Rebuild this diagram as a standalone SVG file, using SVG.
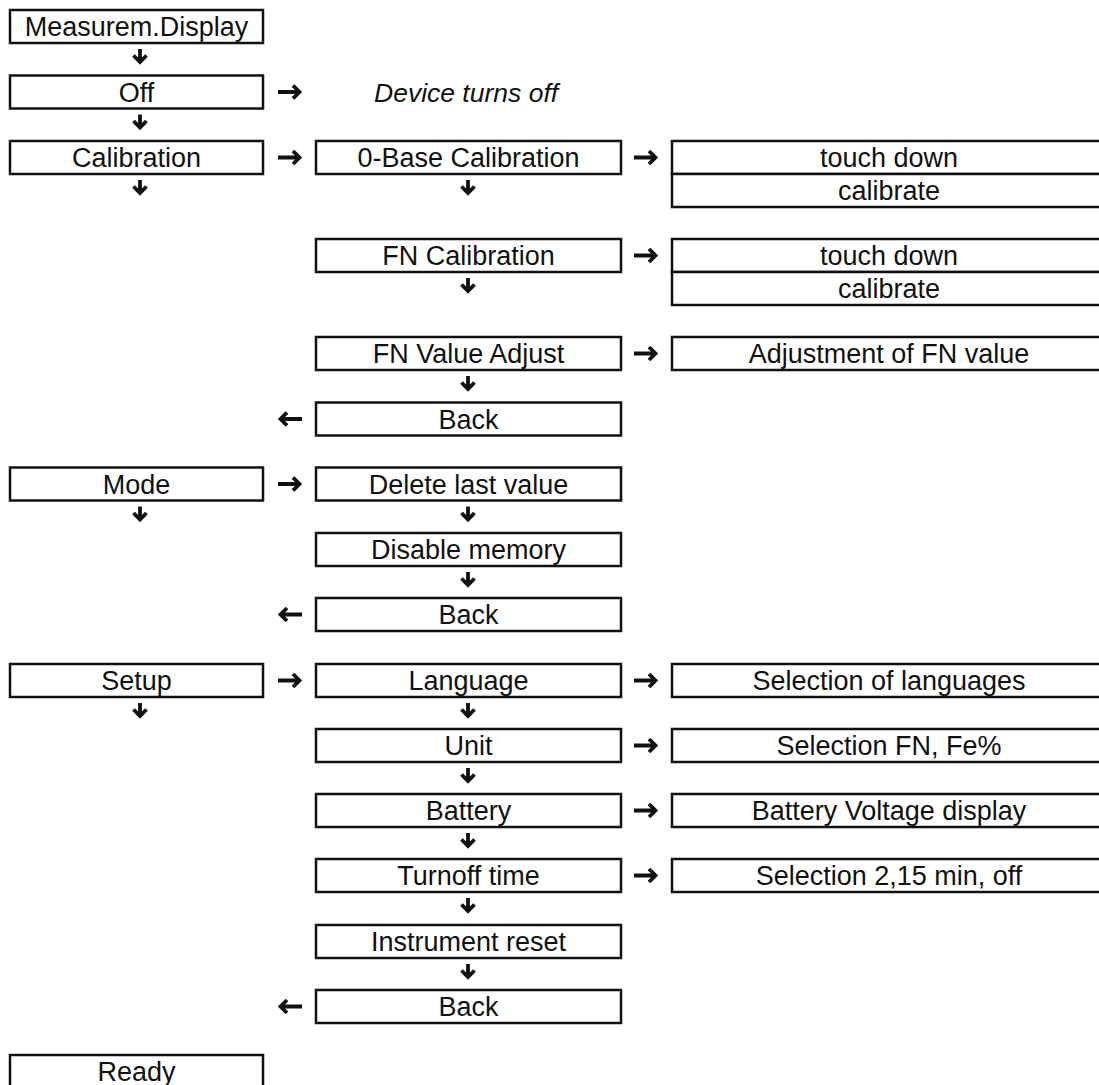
<svg xmlns="http://www.w3.org/2000/svg" width="1099" height="1085" viewBox="0 0 1099 1085">
<style>
.b{fill:#fff;stroke:#111;stroke-width:2.5}
.t{font-family:"Liberation Sans",Arial,sans-serif;font-size:27px;fill:#111;text-anchor:middle}
.i{font-family:"Liberation Sans",Arial,sans-serif;font-size:26.5px;font-style:italic;fill:#111}
.a{fill:none;stroke:#111;stroke-width:3.8;stroke-linejoin:miter}
</style>
<defs>
<path id="dn" class="a" d="M0,-7.5 V5 M-6.5,-1 L0,5.5 L6.5,-1"/>
<path id="rt" class="a" d="M-12,0 H9 M3,-6.5 L9.5,0 L3,6.5"/>
<path id="lt" class="a" d="M12,0 H-9 M-3,-6.5 L-9.5,0 L-3,6.5"/>
</defs>
<rect width="1099" height="1085" fill="#fff"/>

<g id="n-measurem"><rect class="b" x="10" y="10" width="253" height="33"/><text class="t" x="136.5" y="36">Measurem.Display</text></g>
<g id="n-off"><rect class="b" x="10" y="75.5" width="253" height="33"/><text class="t" x="136.5" y="101.5">Off</text></g>
<g id="n-devoff"><text class="i" x="374" y="101.5">Device turns off</text></g>
<g id="n-calibration"><rect class="b" x="10" y="141" width="253" height="33"/><text class="t" x="136.5" y="167">Calibration</text></g>
<g id="n-0base"><rect class="b" x="316" y="141" width="305" height="33"/><text class="t" x="468.5" y="167">0-Base Calibration</text></g>
<g id="n-0base-r"><rect class="b" x="672" y="141" width="440" height="33"/><text class="t" x="889" y="167">touch down</text><rect class="b" x="672" y="174" width="440" height="33"/><text class="t" x="889" y="200">calibrate</text></g>
<g id="n-fncal"><rect class="b" x="316" y="239" width="305" height="33"/><text class="t" x="468.5" y="265">FN Calibration</text></g>
<g id="n-fncal-r"><rect class="b" x="672" y="239" width="440" height="33"/><text class="t" x="889" y="265">touch down</text><rect class="b" x="672" y="272" width="440" height="33"/><text class="t" x="889" y="298">calibrate</text></g>
<g id="n-fnadj"><rect class="b" x="316" y="337" width="305" height="33"/><text class="t" x="468.5" y="363">FN Value Adjust</text></g>
<g id="n-fnadj-r"><rect class="b" x="672" y="337" width="440" height="33"/><text class="t" x="889" y="363">Adjustment of FN value</text></g>
<g id="n-back1"><rect class="b" x="316" y="402.5" width="305" height="33"/><text class="t" x="468.5" y="428.5">Back</text></g>
<g id="n-mode"><rect class="b" x="10" y="467.5" width="253" height="33"/><text class="t" x="136.5" y="493.5">Mode</text></g>
<g id="n-dellast"><rect class="b" x="316" y="467.5" width="305" height="33"/><text class="t" x="468.5" y="493.5">Delete last value</text></g>
<g id="n-dismem"><rect class="b" x="316" y="533" width="305" height="33"/><text class="t" x="468.5" y="559">Disable memory</text></g>
<g id="n-back2"><rect class="b" x="316" y="598" width="305" height="33"/><text class="t" x="468.5" y="624">Back</text></g>
<g id="n-setup"><rect class="b" x="10" y="664" width="253" height="33"/><text class="t" x="136.5" y="690">Setup</text></g>
<g id="n-language"><rect class="b" x="316" y="664" width="305" height="33"/><text class="t" x="468.5" y="690">Language</text></g>
<g id="n-language-r"><rect class="b" x="672" y="664" width="440" height="33"/><text class="t" x="889" y="690">Selection of languages</text></g>
<g id="n-unit"><rect class="b" x="316" y="729" width="305" height="33"/><text class="t" x="468.5" y="755">Unit</text></g>
<g id="n-unit-r"><rect class="b" x="672" y="729" width="440" height="33"/><text class="t" x="889" y="755">Selection FN, Fe%</text></g>
<g id="n-battery"><rect class="b" x="316" y="794" width="305" height="33"/><text class="t" x="468.5" y="820">Battery</text></g>
<g id="n-battery-r"><rect class="b" x="672" y="794" width="440" height="33"/><text class="t" x="889" y="820">Battery Voltage display</text></g>
<g id="n-turnoff"><rect class="b" x="316" y="859" width="305" height="33"/><text class="t" x="468.5" y="885">Turnoff time</text></g>
<g id="n-turnoff-r"><rect class="b" x="672" y="859" width="440" height="33"/><text class="t" x="889" y="885">Selection 2,15 min, off</text></g>
<g id="n-reset"><rect class="b" x="316" y="925" width="305" height="33"/><text class="t" x="468.5" y="951">Instrument reset</text></g>
<g id="n-back3"><rect class="b" x="316" y="990" width="305" height="33"/><text class="t" x="468.5" y="1016">Back</text></g>
<g id="n-ready"><rect class="b" x="10" y="1055" width="253" height="33"/><text class="t" x="136.5" y="1081">Ready</text></g>

<g id="connectors">
<use href="#dn" x="140" y="56.5"/>
<use href="#dn" x="140" y="122"/>
<use href="#dn" x="140" y="187.5"/>
<use href="#dn" x="140" y="514"/>
<use href="#dn" x="140" y="710.5"/>
<use href="#dn" x="468" y="187.5"/>
<use href="#dn" x="468" y="285.5"/>
<use href="#dn" x="468" y="383.5"/>
<use href="#dn" x="468" y="514"/>
<use href="#dn" x="468" y="579.5"/>
<use href="#dn" x="468" y="710.5"/>
<use href="#dn" x="468" y="775.5"/>
<use href="#dn" x="468" y="840.5"/>
<use href="#dn" x="468" y="905.5"/>
<use href="#dn" x="468" y="971.5"/>
<use href="#rt" x="290" y="92"/>
<use href="#rt" x="290" y="157.5"/>
<use href="#rt" x="290" y="484"/>
<use href="#rt" x="290" y="680.5"/>
<use href="#rt" x="646" y="157.5"/>
<use href="#rt" x="646" y="255.5"/>
<use href="#rt" x="646" y="353.5"/>
<use href="#rt" x="646" y="680.5"/>
<use href="#rt" x="646" y="745.5"/>
<use href="#rt" x="646" y="810.5"/>
<use href="#rt" x="646" y="875.5"/>
<use href="#lt" x="290" y="419"/>
<use href="#lt" x="290" y="614.5"/>
<use href="#lt" x="290" y="1006.5"/>
</g>
</svg>
